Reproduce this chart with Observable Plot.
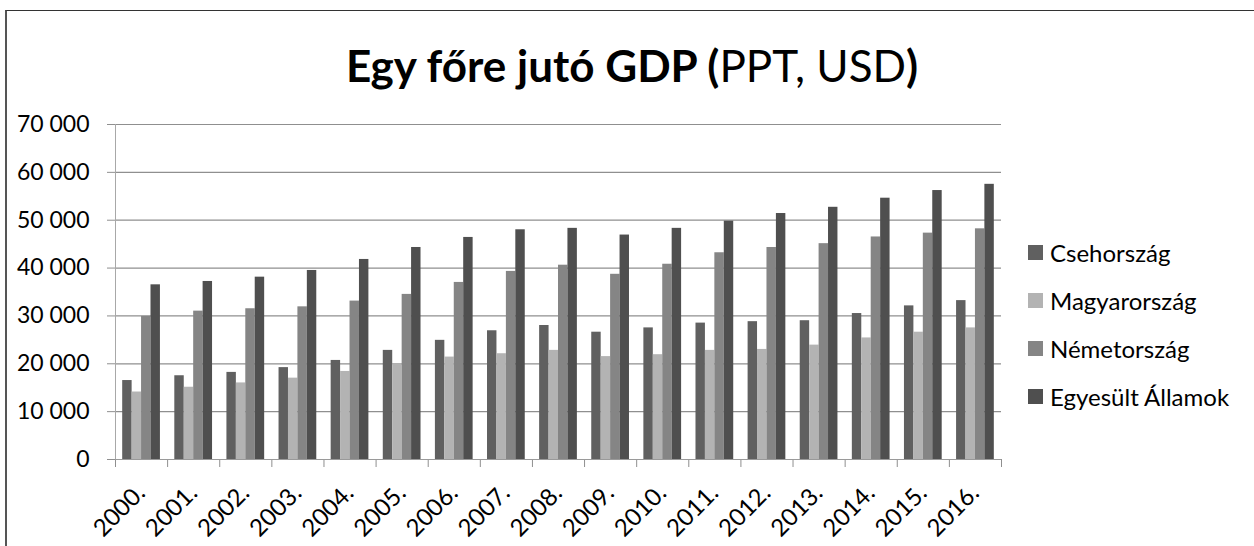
<!DOCTYPE html>
<html>
<head>
<meta charset="utf-8">
<script src="https://cdn.jsdelivr.net/npm/d3@7"></script>
<script src="https://cdn.jsdelivr.net/npm/@observablehq/plot@0.6"></script>
<style>
  html, body { margin: 0; padding: 0; background: #fff; }
  #root { position: relative; width: 1254px; height: 546px; overflow: hidden; font-family: Lato, "Open Sans", sans-serif; }
  #frame { position: absolute; left: 5px; top: 10px; width: 1300px; height: 600px; border-left: 2px solid #555; border-top: 1px solid #333; }
  #title { position: absolute; left: 0; top: 38px; width: 1264px; height: 54px; line-height: 54px; text-align: center; font-size: 44px; color: #000; }
  #title b { font-weight: 700; }
  #title span { font-weight: 400; }
  #plot { position: absolute; left: 0; top: 110px; }
  #legend { position: absolute; left: 1028px; top: 228px; }
  .row { display: flex; align-items: center; height: 48px; font-size: 24px; color: #000; white-space: nowrap; }
  .sw { width: 15px; height: 15px; margin-right: 7px; }
  #plot svg g[aria-label*="axis"] line,
  #plot svg g[aria-label*="axis"] path { stroke: #8f8f8f; }
</style>
</head>
<body>
<div id="root">
  <div id="frame"></div>
  <div id="title"><b>Egy főre jutó GDP (</b><span>PPT, USD</span><b>)</b></div>
  <div id="plot"></div>
  <div id="legend"></div>
</div>
<script>
const yearLabels = ["2000.","2001.","2002.","2003.","2004.","2005.","2006.","2007.","2008.","2009.","2010.","2011.","2012.","2013.","2014.","2015.","2016."];
const seriesNames = ["Csehország","Magyarország","Németország","Egyesült Államok"];
const seriesColors = ["#606060","#b3b3b3","#858585","#4f4f4f"];
const csehorszag   = [16500,17500,18200,19200,20700,22800,24900,26900,28000,26600,27500,28500,28800,29000,30500,32100,33200];
const magyarorszag = [14100,15100,16000,17000,18400,20000,21400,22100,22800,21500,21900,22800,23000,23900,25400,26600,27500];
const nemetorszag  = [29900,31000,31500,31900,33100,34500,37000,39300,40600,38700,40800,43200,44300,45100,46500,47300,48200];
const egyesult     = [36500,37200,38100,39500,41800,44300,46400,48000,48300,46900,48300,49800,51400,52700,54600,56200,57500];
const seriesValues = [csehorszag, magyarorszag, nemetorszag, egyesult];

const groupFrac = 0.724;              // share of a category used by the bar group
const barFrac = groupFrac / seriesNames.length;

const data = [];
yearLabels.forEach((label, i) => {
  seriesNames.forEach((s, k) => {
    data.push({i, k, series: s, value: seriesValues[k][i]});
  });
});

const boundaries = d3.range(-0.5, yearLabels.length, 1);
const fmt = d3.formatLocale({decimal: ",", thousands: " ", grouping: [3]}).format(",");

const chart = Plot.plot({
  width: 1020,
  height: 436,
  marginLeft: 115,
  marginRight: 19,
  marginTop: 14,
  marginBottom: 87,
  style: {fontFamily: "Lato, 'Open Sans', sans-serif", fontSize: "23px", color: "#000", background: "transparent"},
  x: {domain: [-0.5, yearLabels.length - 0.5], ticks: boundaries, tickFormat: () => "", tickSize: 8, label: null},
  y: {domain: [0, 70000], ticks: 7, tickSize: 8, tickPadding: 18, tickFormat: fmt, label: null},
  color: {domain: seriesNames, range: seriesColors},
  marks: [
    Plot.ruleY(d3.range(10000, 70001, 10000), {stroke: "#8f8f8f", strokeWidth: 1.2}),
    Plot.rect(data, {
      x1: d => d.i - groupFrac / 2 + d.k * barFrac,
      x2: d => d.i - groupFrac / 2 + (d.k + 1) * barFrac,
      y1: 0,
      y2: "value",
      fill: "series"
    }),
    Plot.ruleX([-0.5], {stroke: "#a8a8a8"}),
    Plot.ruleY([0], {stroke: "#9a9a9a"}),
    Plot.text(yearLabels, {
      x: (d, i) => i,
      frameAnchor: "bottom",
      text: d => d,
      rotate: -45,
      textAnchor: "end",
      dx: 5,
      dy: 35,
      fontSize: 24,
      fill: "#000"
    })
  ]
});
document.getElementById("plot").appendChild(chart);

const legend = document.getElementById("legend");
seriesNames.forEach((s, k) => {
  const row = document.createElement("div");
  row.className = "row";
  const sw = document.createElement("div");
  sw.className = "sw";
  sw.style.background = seriesColors[k];
  const t = document.createElement("span");
  t.textContent = s;
  row.appendChild(sw);
  row.appendChild(t);
  legend.appendChild(row);
});
</script>
</body>
</html>
